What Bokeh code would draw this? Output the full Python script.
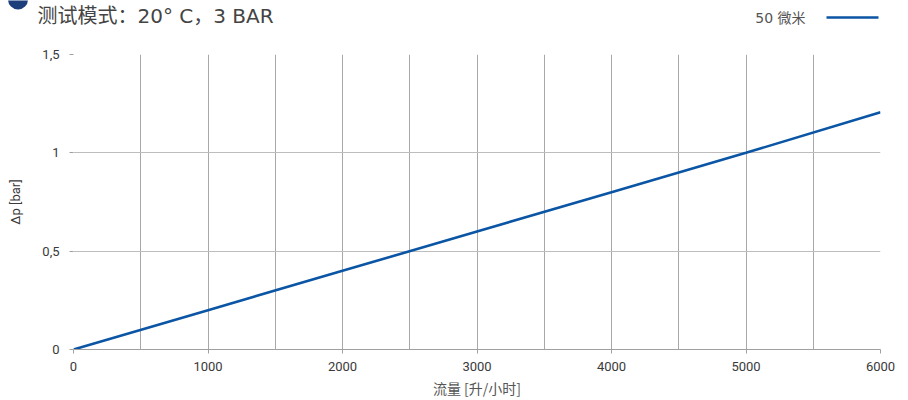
from bokeh.plotting import figure
from bokeh.layouts import column
from bokeh.models import (Label, FixedTicker, SingleIntervalTicker, Range1d,
                          BoxAnnotation, Arrow, Plot)
from bokeh.embed import file_html
from bokeh.resources import INLINE

# ---- data ----
flow = [0, 1000, 2000, 3000, 4000, 5000, 6000]          # 流量 [升/小时]
dp_50um = [0.0, 0.2, 0.4, 0.6, 0.8, 1.0, 1.206]         # Δp [bar]
y_ticks = [0, 0.5, 1, 1.5]
y_tick_labels = ["0", "0,5", "1", "1,5"]
x_ticks = [0, 1000, 2000, 3000, 4000, 5000, 6000]
title_text = "测试模式：20° C，3 BAR"
series_name = "50 微米"
x_label = "流量 [升/小时]"
y_label = "Δp [bar]"

LINE = "#0b55a5"
NAVY = "#1c3f7c"
TEXT = "#3a3a3a"
TICK_FONT = "Roboto"
CJK = "Noto Sans CJK SC"
MIXED = "'DejaVu Sans', 'Noto Sans CJK SC'"

W = 908
HEAD_H = 27
MAIN_H = 373

# ---- header strip: title + legend (plain Plot, no axes) ----
head = Plot(width=W, height=HEAD_H, output_backend="svg", toolbar_location=None,
            x_range=Range1d(0, W), y_range=Range1d(0, HEAD_H),
            min_border=0, min_border_left=0, min_border_right=0,
            min_border_top=0, min_border_bottom=0, outline_line_color=None)

head.add_layout(BoxAnnotation(left=7.5, right=27.5, bottom=HEAD_H - 9, top=HEAD_H + 11,
                              left_units="screen", right_units="screen",
                              bottom_units="screen", top_units="screen",
                              border_radius=10, fill_color=NAVY, fill_alpha=1,
                              line_color=None))
head.add_layout(Label(x=37, y=HEAD_H - 15, x_units="screen", y_units="screen",
                      text=title_text, text_font=MIXED, text_font_size="20px",
                      text_color="#444444", text_baseline="middle",
                      text_align="left"))
head.add_layout(Label(x=805, y=HEAD_H - 17, x_units="screen", y_units="screen",
                      text=series_name, text_font=MIXED, text_font_size="14px",
                      text_color="#555555", text_baseline="middle",
                      text_align="right"))
head.add_layout(Arrow(x_start=826, y_start=HEAD_H - 17, x_end=878, y_end=HEAD_H - 17,
                      start_units="screen", end_units="screen", end=None,
                      line_color=LINE, line_width=2.6))

# ---- main chart ----
p = figure(width=W, height=MAIN_H, output_backend="svg", toolbar_location=None,
           x_range=Range1d(0, 6000), y_range=Range1d(0, 1.5),
           min_border_left=73, min_border_right=28, min_border_top=27,
           min_border_bottom=51)
p.outline_line_color = None

# do not align the header's frame with the chart's frame
for plot in (head, p):
    try:
        plot.frame_align = False
    except Exception:
        pass

p.line(flow, dp_50um, line_color=LINE, line_width=2.6)

p.xgrid.ticker = SingleIntervalTicker(interval=500)
p.ygrid.ticker = FixedTicker(ticks=y_ticks)
p.xgrid.grid_line_color = "#a8a8a8"
p.ygrid.grid_line_color = "#bdbdbd"

p.xaxis.ticker = FixedTicker(ticks=x_ticks)
p.xaxis.axis_line_color = "#a0a0a0"
p.xaxis.major_tick_line_color = "#a0a0a0"
p.xaxis.major_tick_out = 4
p.xaxis.major_tick_in = 0
p.xaxis.minor_tick_line_color = None
p.xaxis.major_label_standoff = 8
p.xaxis.major_label_text_font = TICK_FONT
p.xaxis.major_label_text_font_size = "13px"
p.xaxis.major_label_text_color = TEXT
p.xaxis.axis_label = x_label
p.xaxis.axis_label_text_font = CJK
p.xaxis.axis_label_text_font_size = "14px"
p.xaxis.axis_label_text_font_style = "normal"
p.xaxis.axis_label_text_color = "#555555"
p.xaxis.axis_label_standoff = 4

p.yaxis.ticker = FixedTicker(ticks=y_ticks)
p.yaxis.major_label_overrides = {t: l for t, l in zip(y_ticks, y_tick_labels)}
p.yaxis.axis_line_color = None
p.yaxis.major_tick_line_color = "#a0a0a0"
p.yaxis.major_tick_out = 4
p.yaxis.major_tick_in = 0
p.yaxis.minor_tick_line_color = None
p.yaxis.major_label_standoff = 10
p.yaxis.major_label_text_font = TICK_FONT
p.yaxis.major_label_text_font_size = "13px"
p.yaxis.major_label_text_color = TEXT
p.yaxis.axis_label = y_label
p.yaxis.axis_label_text_font = TICK_FONT
p.yaxis.axis_label_text_font_size = "13px"
p.yaxis.axis_label_text_font_style = "normal"
p.yaxis.axis_label_text_color = TEXT
p.yaxis.axis_label_standoff = 16

layout = column(head, p, spacing=0)
open("out.html", "w").write(file_html(layout, INLINE))
